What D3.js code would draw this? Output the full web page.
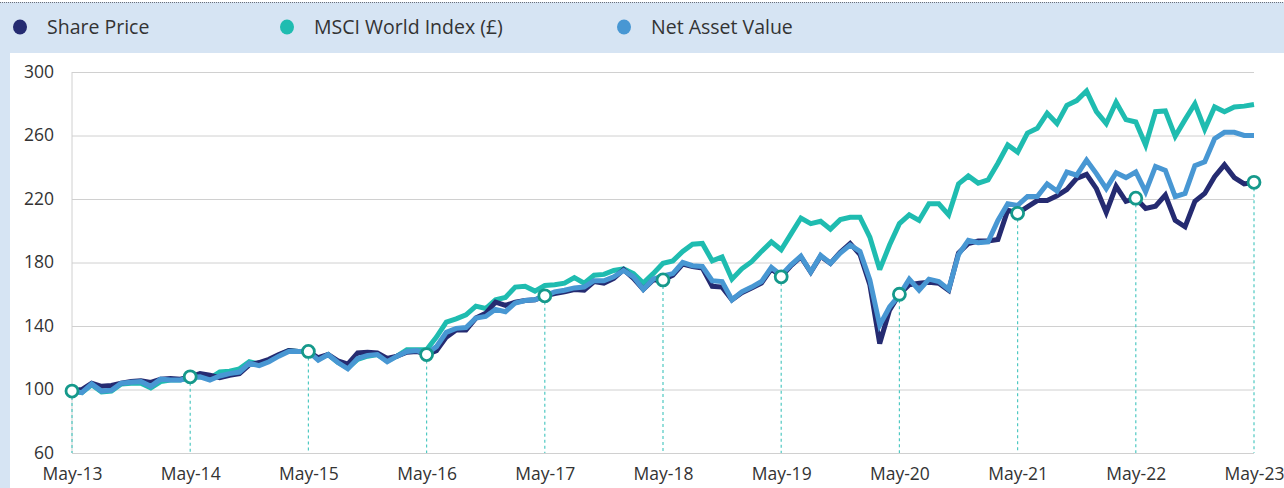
<!DOCTYPE html>
<html>
	<head>
		<meta charset="utf-8">
		<script src="https://cdnjs.cloudflare.com/ajax/libs/d3/7.8.5/d3.min.js" charset="utf-8"></script>
		<style>
			body {
				margin: 0;
				background: #ffffff;
				font-family: 'Open Sans', sans-serif;
			}
			.tick text {
				fill: #333333;
				font-family: 'Open Sans', sans-serif;
			}
		</style>
	</head>
	<body>

		<div id="chart"></div>

		<script type="text/javascript">

			//////////////////////////////// Data //////////////////////////////
			// monthly values, May 2013 (index 0) to May 2023 (index 120), rebased to 100
			var sharePrice = [
				99, 100, 104, 102, 102.5, 104, 105, 105.5, 104.5, 106.5, 107, 106.5, 108,
				110, 109, 107.5, 109, 110, 115.5, 117, 119, 122, 124.5, 124, 124,
				120, 122, 118, 116, 123, 123.5, 123, 119.5, 121, 123.5, 124, 122,
				124.5, 133, 137.5, 137.5, 145, 148, 155, 153, 155, 156, 156.5, 159,
				160.5, 161.5, 163, 162.5, 168, 167, 170, 175.5, 170, 163, 169, 169,
				172, 179, 177.5, 176.5, 165, 164.5, 156.5, 161, 164, 167, 176, 171,
				178, 183.5, 174, 184, 179.5, 186.5, 192, 185, 166, 129, 150, 160,
				166, 167, 167.5, 167, 162.5, 186, 192, 193.5, 193.5, 194.5, 213, 211,
				215, 219, 219, 222, 226, 233, 235.5, 226.5, 211.5, 228, 218.5, 220.5,
				214, 215.5, 222.5, 206.5, 202.5, 218.5, 223.5, 234, 241.5, 233.5, 229.5, 230.5
			];
			var msciWorld = [
				99, 98, 103, 98.5, 99, 103.5, 104, 104, 101, 105, 106, 106, 107.5,
				108, 107, 111, 111.5, 113, 117.5, 116, 118.5, 121.5, 124.5, 124, 124,
				119, 122, 117, 113.5, 119, 121, 122, 118, 121, 125, 125, 125,
				133, 142.5, 144.5, 147, 152.5, 151, 156.5, 158, 164.5, 165, 162, 165.5,
				166, 167, 170.5, 167, 172, 172.5, 175, 176, 173, 167, 173, 179.5,
				181, 187, 191.5, 192, 181, 183.5, 169.5, 176, 180.5, 187, 193, 188,
				198, 208, 204.5, 206, 201, 207, 208.5, 208.5, 196, 175.5, 191, 204.5,
				210, 206.5, 217, 217, 210, 229.5, 234.5, 230, 232, 242.5, 254, 249.5,
				261.5, 264.5, 274, 267.5, 279, 282, 288, 275, 267.5, 281, 270, 268.5,
				254, 275, 275.5, 259.5, 270, 280, 264, 278, 275, 278, 278.5, 279.5
			];
			var netAssetValue = [
				99, 98, 103.5, 99, 99.5, 104, 104.5, 105, 102, 106.5, 106, 106, 107.5,
				108, 106, 108.5, 110, 111, 116.5, 115, 117.5, 121, 124, 124, 124,
				118.5, 122, 117, 113, 119.5, 121.5, 122, 117.5, 121, 124, 124.5, 122.5,
				127, 136, 138.5, 139, 145, 146, 150.5, 149, 154.5, 156, 156.5, 159,
				161.5, 162.5, 164, 164.5, 168.5, 168.5, 171, 175, 171, 163, 169.5, 171.5,
				173, 180, 178, 177.5, 168.5, 168, 156.5, 161.5, 164.5, 168, 177, 172,
				178.5, 184, 174, 184.5, 179.5, 186, 191, 187, 169, 140.5, 152, 159.5,
				169.5, 162.5, 169.5, 168, 163, 185, 194, 192.5, 193, 206.5, 217, 216,
				221.5, 221.5, 229.5, 225, 237, 235, 244.5, 236, 226.5, 236.5, 233.5, 237,
				224.5, 240.5, 238, 221.5, 223.5, 241, 243.5, 258, 262, 262, 260, 260
			];

			var xLabels = ["May-13", "May-14", "May-15", "May-16", "May-17", "May-18",
				"May-19", "May-20", "May-21", "May-22", "May-23"];
			var yTicks = [60, 100, 140, 180, 220, 260, 300];

			var seriesNames = ["Share Price", "MSCI World Index (£)", "Net Asset Value"];

			//////////////////////////////// Setup //////////////////////////////
			var W = 1284, H = 488;
			var colors = {
				"Share Price": "#252b71",
				"MSCI World Index (£)": "#1fbcb0",
				"Net Asset Value": "#4897d3"
			};

			var svg = d3.select("#chart")
				.append("svg")
				.attr("width", W)
				.attr("height", H);

			// page frame: light blue band and left strip
			svg.append("rect")
				.attr("x", 0).attr("y", 0)
				.attr("width", W).attr("height", H)
				.style("fill", "#d6e4f3");
			svg.append("rect")
				.attr("x", 10).attr("y", 53)
				.attr("width", W - 10).attr("height", H - 53)
				.style("fill", "#ffffff");
			svg.append("rect")
				.attr("x", 0).attr("y", 0)
				.attr("width", W).attr("height", 2)
				.style("fill", "#ffffff");
			svg.append("line")
				.attr("x1", 0).attr("x2", W)
				.attr("y1", 2.5).attr("y2", 2.5)
				.style("stroke", "#6b6f78")
				.style("stroke-width", 1)
				.style("stroke-dasharray", "1,1");

			var x = d3.scaleLinear().domain([0, 120]).range([72, 1254]);
			var y = d3.scaleLinear().domain([60, 300]).range([453, 72]);

			//////////////////////////////// Axes //////////////////////////////
			var yAxis = svg.append("g")
				.attr("transform", "translate(72,0)")
				.call(d3.axisLeft(y).tickValues(yTicks).tickSize(-(1254 - 72)).tickPadding(18));
			yAxis.attr("font-family", null);
			yAxis.select(".domain").remove();
			yAxis.selectAll(".tick line").style("stroke", "#d0d0d0").style("stroke-width", 1);
			yAxis.selectAll(".tick text").style("font-size", "17.5px").attr("dy", "0.3em");

			// left axis line
			svg.append("line")
				.attr("x1", 72).attr("x2", 72)
				.attr("y1", y(300)).attr("y2", y(60))
				.style("stroke", "#d0d0d0");

			var xAxis = svg.append("g")
				.attr("transform", "translate(0," + y(60) + ")")
				.call(d3.axisBottom(x)
					.tickValues(d3.range(0, 121, 12))
					.tickFormat(function(d) { return xLabels[d / 12]; })
					.tickSize(0).tickPadding(15));
			xAxis.attr("font-family", null);
			xAxis.select(".domain").remove();
			xAxis.selectAll(".tick text").style("font-size", "17.5px");

			//////////////////////////////// Anniversary drop lines //////////////////////////////
			var yearIdx = d3.range(0, 121, 12);
			svg.append("g").selectAll("line")
				.data(yearIdx)
				.enter().append("line")
				.attr("x1", function(d) { return x(d); })
				.attr("x2", function(d) { return x(d); })
				.attr("y1", function(d) { return y(sharePrice[d]); })
				.attr("y2", y(60))
				.style("stroke", "#4fc9c2")
				.style("stroke-width", 1.2)
				.style("stroke-dasharray", "3,3");

			//////////////////////////////// Lines //////////////////////////////
			var line = d3.line()
				.x(function(d, i) { return x(i); })
				.y(function(d) { return y(d); });

			var drawOrder = [
				{name: "MSCI World Index (£)", values: msciWorld},
				{name: "Share Price", values: sharePrice},
				{name: "Net Asset Value", values: netAssetValue}
			];

			svg.append("g").selectAll("path")
				.data(drawOrder)
				.enter().append("path")
				.attr("d", function(d) { return line(d.values); })
				.style("fill", "none")
				.style("stroke", function(d) { return colors[d.name]; })
				.style("stroke-width", 5)
				.style("stroke-linejoin", "miter")
				.style("stroke-miterlimit", 3);

			//////////////////////////////// Markers //////////////////////////////
			svg.append("g").selectAll("circle")
				.data(yearIdx)
				.enter().append("circle")
				.attr("cx", function(d) { return x(d); })
				.attr("cy", function(d) { return y(sharePrice[d]); })
				.attr("r", 6)
				.style("fill", "#ffffff")
				.style("stroke", "#15998b")
				.style("stroke-width", 2.8);

			//////////////////////////////// Legend //////////////////////////////
			var legendX = [20, 287, 624];
			var legend = svg.append("g").selectAll("g")
				.data(seriesNames)
				.enter().append("g")
				.attr("transform", function(d, i) { return "translate(" + legendX[i] + ",27)"; });

			legend.append("ellipse")
				.attr("rx", 7).attr("ry", 7.5)
				.style("fill", function(d) { return colors[d]; });

			legend.append("text")
				.attr("x", 27)
				.attr("dy", "0.35em")
				.style("font-size", "19.5px")
				.style("fill", "#333333")
				.text(function(d) { return d; });

		</script>

	</body>
</html>
